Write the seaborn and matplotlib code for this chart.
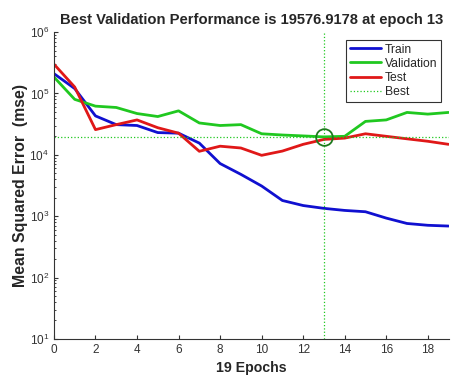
import numpy as np
import pandas as pd
import matplotlib
matplotlib.use("Agg")
import matplotlib.pyplot as plt
import seaborn as sns

# values
epochs = list(range(20))
train = [2.1e5, 1.2e5, 4.3e4, 3.1e4, 3.0e4, 2.3e4, 2.25e4, 1.55e4, 7.2e3, 4.8e3,
         3.1e3, 1.8e3, 1.49e3, 1.34e3, 1.24e3, 1.18e3, 9.3e2, 7.6e2, 7.1e2, 6.9e2]
validation = [1.85e5, 8.0e4, 6.2e4, 5.9e4, 4.7e4, 4.2e4, 5.2e4, 3.3e4, 3.0e4, 3.1e4,
              2.2e4, 2.1e4, 2.03e4, 19576.9178, 2.0e4, 3.5e4, 3.7e4, 4.9e4, 4.6e4, 4.9e4]
test = [3.0e5, 1.27e5, 2.57e4, 3.1e4, 3.7e4, 2.76e4, 2.25e4, 1.14e4, 1.38e4, 1.29e4,
        9.8e3, 1.15e4, 1.48e4, 1.78e4, 1.87e4, 2.2e4, 2.0e4, 1.82e4, 1.66e4, 1.48e4]
best_epoch = 13
best_perf = 19576.9178

df = pd.DataFrame({"epoch": epochs, "Train": train, "Validation": validation, "Test": test})
long_df = df.melt(id_vars="epoch", var_name="set", value_name="mse")

sns.set_style("ticks")
plt.rcParams["font.family"] = ["Liberation Sans", "DejaVu Sans"]
plt.rcParams["xtick.direction"] = "in"
plt.rcParams["ytick.direction"] = "in"

fig = plt.figure(figsize=(4.61, 3.86), dpi=100)
ax = fig.add_axes([0.117, 0.122, 0.856, 0.795])

colors = {"Train": "#1010d0", "Validation": "#20c820", "Test": "#e01818"}
sns.lineplot(data=long_df, x="epoch", y="mse", hue="set", palette=colors,
             linewidth=2.0, ax=ax)

# best epoch markers
ax.axvline(best_epoch, color="#20c820", linestyle=":", linewidth=0.9, label="Best")
ax.axhline(best_perf, color="#20c820", linestyle=":", linewidth=0.9)
ax.plot([best_epoch], [best_perf], marker="o", markersize=12, markerfacecolor="none",
        markeredgecolor="#1e7a1e", markeredgewidth=1.3, linestyle="none")

ax.set_yscale("log")
ax.set_ylim(10, 1e6)
ax.set_xlim(0, 19)
ax.set_xticks(range(0, 19, 2))
ax.tick_params(axis="both", labelsize=8.5, colors="#333333", length=3)
ax.tick_params(axis="y", which="minor", length=1.5)
sns.despine(ax=ax)
for s in ["left", "bottom"]:
    ax.spines[s].set_color("#333333")
    ax.spines[s].set_linewidth(0.8)

ax.set_title("Best Validation Performance is 19576.9178 at epoch 13",
             fontsize=10.6, fontweight="bold", pad=6)
ax.set_xlabel("19 Epochs", fontsize=10.2, fontweight="bold", labelpad=4)
ax.set_ylabel("Mean Squared Error  (mse)", fontsize=11.4, fontweight="bold", labelpad=1)

handles, labels = ax.get_legend_handles_labels()
leg = ax.legend(handles, labels, loc="upper right", fontsize=8.7, frameon=True,
                fancybox=False, edgecolor="black", handlelength=2.6,
                handletextpad=0.3, borderaxespad=0.65, labelspacing=0.18,
                borderpad=0.3)
leg.get_frame().set_linewidth(0.8)

fig.savefig("out.png", dpi=100)
